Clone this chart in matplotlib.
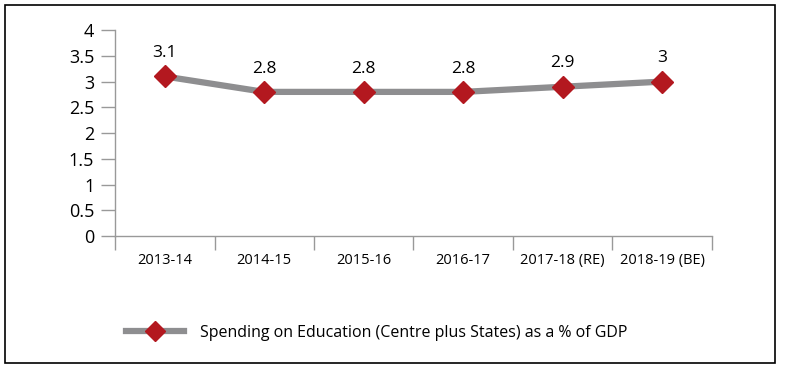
import matplotlib.pyplot as plt
from matplotlib.patches import Rectangle

# Datos
years = ['2013-14', '2014-15', '2015-16', '2016-17', '2017-18 (RE)', '2018-19 (BE)']
spending = [3.1, 2.8, 2.8, 2.8, 2.9, 3.0]
labels = ['3.1', '2.8', '2.8', '2.8', '2.9', '3']
yticks = [0, 0.5, 1, 1.5, 2, 2.5, 3, 3.5, 4]
ytick_labels = ['0', '0.5', '1', '1.5', '2', '2.5', '3', '3.5', '4']

plt.rcParams['font.family'] = ['Open Sans', 'DejaVu Sans']

fig = plt.figure(figsize=(7.85, 3.72), dpi=100)
ax = fig.add_axes([0.1465, 0.3656, 0.7605, 0.5534])

# Marco exterior
fig.patches.append(Rectangle((0.0064, 0.024), 0.9806, 0.9626,
                             transform=fig.transFigure, fill=False,
                             edgecolor='black', linewidth=1.2))

x = range(len(years))
ax.plot(x, spending, color='#8e8e90', linewidth=4.5, marker='D',
        markersize=11, markerfacecolor='#b3181f', markeredgecolor='#b3181f',
        label='Spending on Education (Centre plus States) as a % of GDP')
for xi, v, lab in zip(x, spending, labels):
    ax.annotate(lab, (xi, v), xytext=(0, 11), textcoords='offset points',
                ha='center', va='bottom', fontsize=12.5)

ax.set_xlim(-0.5, len(years) - 0.5)
ax.set_ylim(0, 4)
ax.set_yticks(yticks)
ax.set_yticklabels(ytick_labels, fontsize=13)
ax.set_xticks([i for i in x])
ax.set_xticklabels(years, fontsize=10.5)
ax.set_xticks([i - 0.5 for i in range(len(years) + 1)], minor=True)
ax.tick_params(axis='x', which='major', length=0, pad=12)
ax.tick_params(axis='x', which='minor', length=10, color='#999999', width=1)
ax.tick_params(axis='y', length=10, color='#999999', width=1, pad=5)

for s in ['top', 'right']:
    ax.spines[s].set_visible(False)
for s in ['left', 'bottom']:
    ax.spines[s].set_color('#999999')
    ax.spines[s].set_linewidth(1)

leg = ax.legend(loc='center left', bbox_to_anchor=(-0.005, -0.47), frameon=False,
                fontsize=11.5, handlelength=3.6, handletextpad=1.0,
                markerscale=0.9)

fig.savefig('out.png', dpi=100)
